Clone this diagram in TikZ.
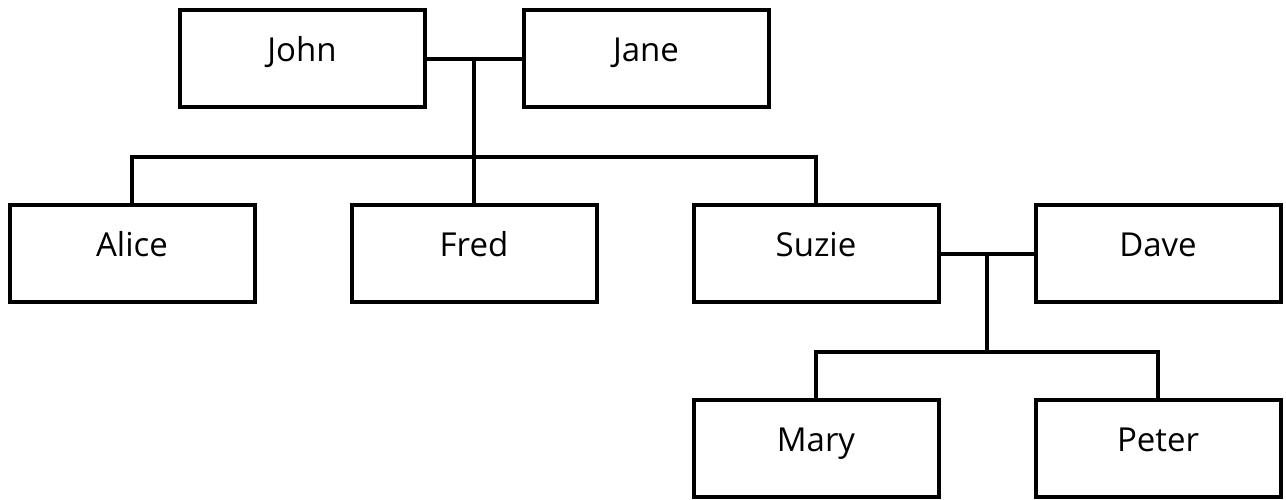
\documentclass[tikz,border=0pt]{standalone}
\usepackage{fontspec}
\setmainfont{Open Sans}
\usepackage{tikz}
\usetikzlibrary{positioning}

\begin{document}
\begin{tikzpicture}[person/.style={rectangle, draw=black, line width=4pt, inner sep=0pt, minimum width=245pt, minimum height=97pt, text height=27pt, text depth=22pt, font=\fontsize{33}{38}\selectfont},
link/.style={line width=4pt, color=black}]
\useasboundingbox (0pt, 0pt) rectangle (1286pt, -499pt);
\node (john) [person] at (302pt, -58.5pt) {John};
\node (jane) [person] at (646pt, -58.5pt) {Jane};
\node (alice) [person] at (132pt, -253.5pt) {Alice};
\node (fred) [person] at (474pt, -253.5pt) {Fred};
\node (suzie) [person] at (816pt, -253.5pt) {Suzie};
\node (dave) [person] at (1158pt, -253.5pt) {Dave};
\node (mary) [person] at (816pt, -448.5pt) {Mary};
\node (peter) [person] at (1158pt, -448.5pt) {Peter};
\coordinate (jj) at (474pt, -58.5pt);
\coordinate (kids1) at (474pt, -157pt);
\coordinate (sd) at (987pt, -253.5pt);
\coordinate (kids2) at (987pt, -352pt);
\draw [link] (john) to (jane);
\draw [link] (jj) to (fred);
\draw [link] (alice) |- (kids1) -| (suzie);
\draw [link] (suzie) to (dave);
\draw [link] (sd) to (kids2);
\draw [link] (mary) |- (kids2) -| (peter);
\end{tikzpicture}
\end{document}
